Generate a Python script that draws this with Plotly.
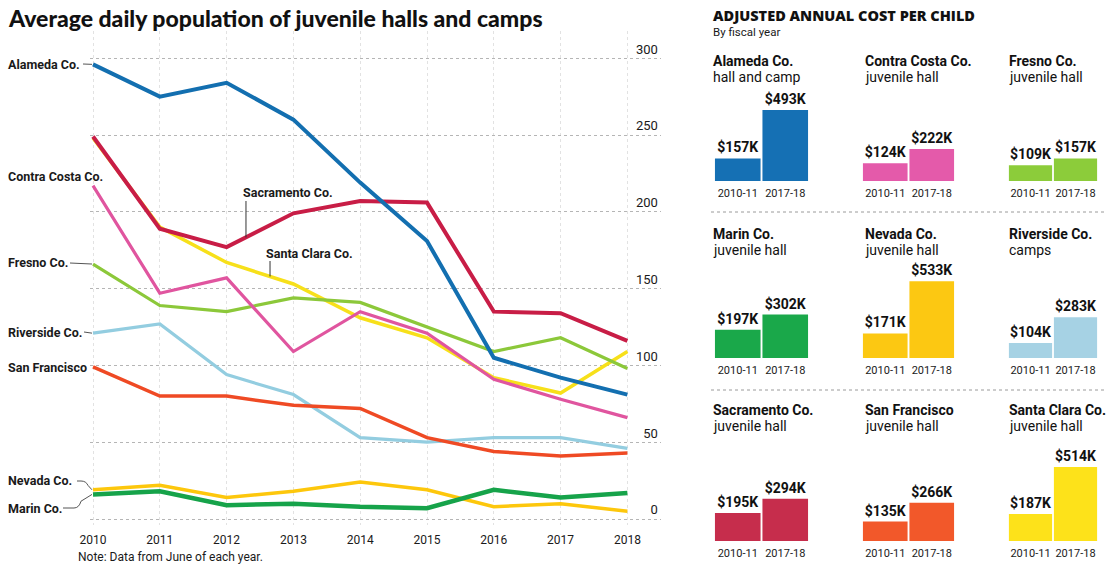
import plotly.graph_objects as go

# ---------------- data: average daily population ----------------
years = [2010, 2011, 2012, 2013, 2014, 2015, 2016, 2017, 2018]
alameda = [296, 275, 284, 260, 219, 181, 105, 92, 81]
sacramento = [249, 189, 177, 199, 207, 206, 135, 134, 116]
santa_clara = [248, 190, 167, 153, 131, 118, 92, 82, 109]
contra_costa = [217, 147, 157, 109, 135, 121, 91, 78, 66]
fresno = [166, 139, 135, 144, 141, 125, 109, 118, 98]
riverside = [121, 127, 94, 81, 53, 50, 53, 53, 46]
san_francisco = [99, 80, 80, 74, 72, 53, 44, 41, 43]
nevada = [19, 22, 14, 18, 24, 19, 8, 10, 5]
marin = [16, 18, 9, 10, 8, 7, 19, 14, 17]
y_ticks = [0, 50, 100, 150, 200, 250, 300]

# ---------------- data: adjusted annual cost per child ($K) ----------------
cost_counties = ["Alameda Co.", "Contra Costa Co.", "Fresno Co.",
                 "Marin Co.", "Nevada Co.", "Riverside Co.",
                 "Sacramento Co.", "San Francisco", "Santa Clara Co."]
cost_facility = ["hall and camp", "juvenile hall", "juvenile hall",
                 "juvenile hall", "juvenile hall", "camps",
                 "juvenile hall", "juvenile hall", "juvenile hall"]
fiscal_years = ["2010-11", "2017-18"]
cost_2010_11 = [157, 124, 109, 197, 171, 104, 195, 135, 187]
cost_2017_18 = [493, 222, 157, 302, 533, 283, 294, 266, 514]

# ---------------- styling ----------------
W, H = 1107, 565
FONT = "Roboto"
TXT = "#1a1a1a"
line_colors = {
    "Alameda": "#136fb0", "Sacramento": "#c81d46", "Santa Clara": "#f7e01a",
    "Contra Costa": "#e0559f", "Fresno": "#8cc83a", "Riverside": "#93cde0",
    "San Francisco": "#ef4a24", "Nevada": "#fdc70c", "Marin": "#16a34a",
}
bar_colors = ["#1570b4", "#e45aaa", "#8ccc3a", "#1aa84a", "#fcc812",
              "#a6d2e4", "#c62d4c", "#f2582a", "#fde21a"]


def px(x):
    return x / W


def py(y):
    return 1 - y / H


fig = go.Figure()

series = [
    ("Santa Clara", santa_clara, 3.5),
    ("Fresno", fresno, 3.2),
    ("Riverside", riverside, 3.2),
    ("San Francisco", san_francisco, 3.5),
    ("Nevada", nevada, 3.5),
    ("Marin", marin, 4.5),
    ("Contra Costa", contra_costa, 3.2),
    ("Sacramento", sacramento, 4),
    ("Alameda", alameda, 4),
]
for name, vals, w in series:
    fig.add_trace(go.Scatter(x=years, y=vals, mode="lines", name=name,
                             line=dict(color=line_colors[name], width=w),
                             hoverinfo="skip", showlegend=False, xaxis="x", yaxis="y"))

# pixel geometry of left chart
X0_PX, YR_PX = 93.0, 66.8       # 2010 position, px per year
Y0_PX, UNIT_PX = 519.0, 1.536   # zero position, px per unit
xr = [2009.95, 2018.5]
yr = [-4, 318]
x_dom = [px(X0_PX + (xr[0] - 2010) * YR_PX), px(X0_PX + (xr[1] - 2010) * YR_PX)]
y_dom = [py(Y0_PX - yr[0] * UNIT_PX), py(Y0_PX - yr[1] * UNIT_PX)]

layout = dict(
    width=W, height=H, margin=dict(l=0, r=0, t=0, b=0, autoexpand=False),
    paper_bgcolor="white", plot_bgcolor="white",
    font=dict(family=FONT, color=TXT),
    showlegend=False,
    xaxis=dict(domain=x_dom, range=xr, tickvals=years, automargin=False,
               showgrid=True, gridcolor="#e2e2e2", griddash="dot", gridwidth=1,
               zeroline=False, showline=False, ticks="outside", ticklen=3,
               tickcolor="rgba(0,0,0,0)", tickfont=dict(size=12, color=TXT)),
    yaxis=dict(domain=y_dom, range=yr, tickvals=y_ticks, side="right",
               ticklabelposition="inside top", automargin=False,
               showgrid=True, gridcolor="#b5b5b5", griddash="dot", gridwidth=1,
               zeroline=False, showline=False, ticks="",
               tickfont=dict(size=13, color=TXT)),
)

annotations = []
shapes = []

# titles
annotations.append(dict(x=px(6), y=py(18), xref="paper", yref="paper",
                        xanchor="left", yanchor="middle", showarrow=False,
                        text="Average daily population of juvenile halls and camps",
                        font=dict(family="Lato", size=23, color="#111", weight=900)))
annotations.append(dict(x=px(76), y=py(557), xref="paper", yref="paper",
                        xanchor="left", yanchor="middle", showarrow=False,
                        text="Note: Data from June of each year.",
                        font=dict(size=12, color=TXT)))

# left-side labels for lines: (text, label y px, series values, connector?)
left_labels = [
    ("Alameda Co.", 64, alameda, True),
    ("Contra Costa Co.", 177, contra_costa, False),
    ("Fresno Co.", 263, fresno, True),
    ("Riverside Co.", 332, riverside, True),
    ("San Francisco", 367, san_francisco, False),
    ("Nevada Co.", 481, nevada, True),
    ("Marin Co.", 508, marin, True),
]
label_w = {"Alameda Co.": 72, "Fresno Co.": 59, "Riverside Co.": 73,
           "Nevada Co.": 66, "Marin Co.": 52}
for text, ypx, vals, conn in left_labels:
    annotations.append(dict(x=px(6), y=py(ypx), xref="paper", yref="paper",
                            xanchor="left", yanchor="middle", showarrow=False,
                            text="<b>" + text + "</b>",
                            font=dict(size=12.5, color=TXT)))
    if conn:
        x_start = 8 + label_w[text] + 3
        y_end = Y0_PX - vals[0] * UNIT_PX
        if abs(y_end - ypx) < 4:
            shapes.append(dict(type="line", xref="paper", yref="paper",
                               x0=px(x_start), y0=py(ypx), x1=px(X0_PX - 1), y1=py(y_end),
                               line=dict(color="#555", width=1)))
        else:
            xm = (x_start + X0_PX) / 2
            path = "M {a},{b} L {c},{b} Q {d},{b} {d2},{e} L {f},{g}".format(
                a=px(x_start), b=py(ypx), c=px(xm - 4), d=px(xm + 1),
                d2=px(xm + 3), e=py(ypx + (y_end - ypx) * 0.5),
                f=px(X0_PX - 1), g=py(y_end))
            shapes.append(dict(type="path", xref="paper", yref="paper", path=path,
                               line=dict(color="#555", width=1)))

# inline labels with leaders
def interp(vals, xv):
    i = int(xv - 2010)
    f = xv - 2010 - i
    return vals[i] + (vals[i + 1] - vals[i]) * f

for text, lx_px, ly_px, lead_x, vals in [
        ("Sacramento Co.", 241, 193, 2012.29, sacramento),
        ("Santa Clara Co.", 264, 253, 2012.65, santa_clara)]:
    annotations.append(dict(x=px(lx_px), y=py(ly_px), xref="paper", yref="paper",
                            xanchor="left", yanchor="middle", showarrow=False,
                            text="<b>" + text + "</b>", font=dict(size=12.5, color=TXT)))
    shapes.append(dict(type="line", xref="x", yref="paper",
                       x0=lead_x, x1=lead_x, y0=py(ly_px + 8),
                       y1=py(Y0_PX - interp(vals, lead_x) * UNIT_PX),
                       line=dict(color="#333", width=1)))

# ---------------- right panel ----------------
annotations.append(dict(x=px(711), y=py(15), xref="paper", yref="paper",
                        xanchor="left", yanchor="middle", showarrow=False,
                        text="ADJUSTED ANNUAL COST PER CHILD",
                        font=dict(family="Open Sans", size=14.5, color="#111", weight=800)))
annotations.append(dict(x=px(711), y=py(32), xref="paper", yref="paper",
                        xanchor="left", yanchor="middle", showarrow=False,
                        text="By fiscal year", font=dict(size=11.5, color=TXT)))

col_px = [(714, 809), (862, 955), (1008, 1098)]
col_title_x = [711, 863, 1007]
row_bottom = [181, 358, 541]
row_title_y = [(61, 77), (234, 250), (410, 426)]
BAR_UNIT = 0.144
bar_range = [0, 600]

for i, county in enumerate(cost_counties):
    r, c = divmod(i, 3)
    ax = "x%d" % (i + 2)
    ay = "y%d" % (i + 2)
    fig.add_trace(go.Bar(x=fiscal_years, y=[cost_2010_11[i], cost_2017_18[i]],
                         marker=dict(color=bar_colors[i], line=dict(width=0)),
                         texttemplate="<b>$%{y}K</b>", textposition="outside",
                         textfont=dict(size=14, color="#111"),
                         hoverinfo="skip", cliponaxis=False, showlegend=False,
                         xaxis=ax, yaxis=ay))
    bottom = row_bottom[r]
    top = bottom - (bar_range[1] - bar_range[0]) * BAR_UNIT
    layout["xaxis%d" % (i + 2)] = dict(
        type="category", automargin=False,
        domain=[px(col_px[c][0]), px(col_px[c][1])], anchor=ay,
        showgrid=False, zeroline=False, showline=False, ticks="outside",
        ticklen=2, tickcolor="rgba(0,0,0,0)", tickfont=dict(size=11, color=TXT))
    layout["yaxis%d" % (i + 2)] = dict(
        domain=[py(bottom), py(top)], anchor=ax, range=bar_range, automargin=False,
        showgrid=False, zeroline=False, showline=False, showticklabels=False)
    annotations.append(dict(x=px(col_title_x[c]), y=py(row_title_y[r][0]),
                            xref="paper", yref="paper", xanchor="left", yanchor="middle",
                            showarrow=False, text="<b>" + county + "</b>",
                            font=dict(size=14, color="#111")))
    annotations.append(dict(x=px(col_title_x[c]), y=py(row_title_y[r][1]),
                            xref="paper", yref="paper", xanchor="left", yanchor="middle",
                            showarrow=False, text=cost_facility[i],
                            font=dict(size=14, color="#111")))

for ysep in [212, 390]:
    shapes.append(dict(type="line", xref="paper", yref="paper",
                       x0=px(711), x1=1, y0=py(ysep), y1=py(ysep),
                       line=dict(color="#9a9a9a", width=1, dash="dot")))

layout["bargap"] = 0.04
layout["annotations"] = annotations
layout["shapes"] = shapes
fig.update_layout(**layout)

fig.write_html("out.html", config={"displayModeBar": False},
               post_script="document.body.style.margin='0px';"
                           "document.body.style.overflow='hidden';")
